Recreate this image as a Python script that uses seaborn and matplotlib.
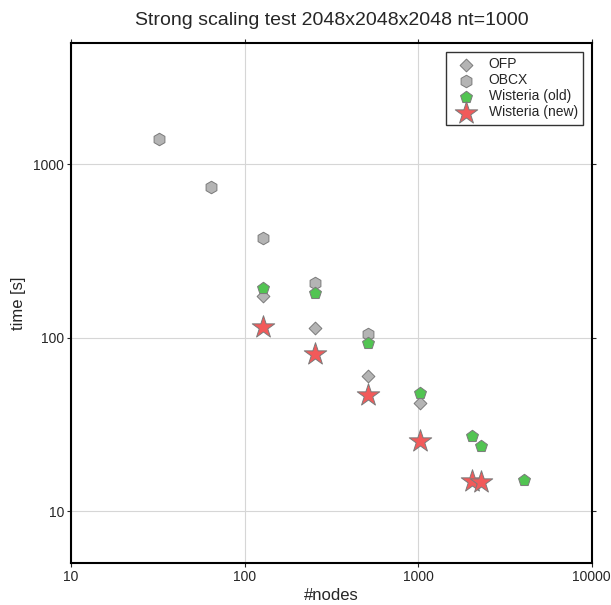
import matplotlib
matplotlib.use("Agg")
import matplotlib.pyplot as plt
import pandas as pd
import seaborn as sns

TITLE = "Strong scaling test 2048x2048x2048 nt=1000"

OFP_NODES = [128, 256, 512, 1024]
OFP_TIME = [175, 114, 60, 42]

OBCX_NODES = [32, 64, 128, 256, 512]
OBCX_TIME = [1406, 738, 375, 206, 105]

WIS_OLD_NODES = [128, 256, 512, 1024, 2048, 2304, 4096]
WIS_OLD_TIME = [195, 182, 93.5, 48, 27, 23.7, 15.1]

WIS_NEW_NODES = [128, 256, 512, 1024, 2048, 2304]
WIS_NEW_TIME = [115, 81, 47, 25.4, 14.9, 14.7]

X_TICKS = [10, 100, 1000, 10000]
Y_TICKS = [10, 100, 1000]

SERIES = [
    ("OFP", OFP_NODES, OFP_TIME, "D", 6.5, "#b4b4b4"),
    ("OBCX", OBCX_NODES, OBCX_TIME, "h", 9, "#b4b4b4"),
    ("Wisteria (old)", WIS_OLD_NODES, WIS_OLD_TIME, "p", 9, "#52c452"),
    ("Wisteria (new)", WIS_NEW_NODES, WIS_NEW_TIME, "*", 17, "#f25a5a"),
]


def configure_plot_style():
    sns.set_style("ticks")
    plt.rcParams.update({
        "font.family": ["Liberation Sans", "DejaVu Sans"],
        "font.size": 10,
        "axes.linewidth": 1.5,
        "axes.edgecolor": "black",
        "xtick.direction": "out",
        "ytick.direction": "out",
        "xtick.major.size": 3,
        "ytick.major.size": 3,
        "xtick.major.width": 0.8,
        "ytick.major.width": 0.8,
        "xtick.labelsize": 10,
        "ytick.labelsize": 10,
    })


def main():
    configure_plot_style()
    fig = plt.figure(figsize=(6.11, 6.05), dpi=100)
    ax = fig.add_axes([0.1162, 0.0689, 0.8522, 0.8595])

    for label, nodes, times, marker, ms, color in SERIES:
        df = pd.DataFrame({"nodes": nodes, "time": times})
        sns.scatterplot(
            data=df, x="nodes", y="time", ax=ax,
            marker=marker, s=ms ** 2, color=color,
            edgecolor="#7a7a7a", linewidth=0.7, label=label, zorder=3,
        )

    ax.set_xscale("log")
    ax.set_yscale("log")
    ax.set_xlim(10, 10000)
    ax.set_ylim(5, 5000)
    ax.set_xticks(X_TICKS, [str(v) for v in X_TICKS])
    ax.set_yticks(Y_TICKS, [str(v) for v in Y_TICKS])
    ax.minorticks_off()
    ax.tick_params(top=True, right=True, labeltop=False, labelright=False, pad=2)
    ax.grid(True, color="#d6d6d6", linewidth=0.8, zorder=0)
    ax.set_axisbelow(True)

    ax.set_xlabel("#nodes", fontsize=12, labelpad=3)
    ax.set_ylabel("time [s]", fontsize=12, labelpad=5)
    ax.set_title(TITLE, fontsize=14, pad=13)

    leg = ax.legend(
        loc="upper right", fancybox=False, frameon=True, edgecolor="black",
        fontsize=10, labelspacing=0.15, handletextpad=0.5, borderpad=0.4,
        handlelength=2.2, borderaxespad=0.6,
    )
    leg.get_frame().set_linewidth(1.0)

    fig.savefig("out.png", dpi=100)
    plt.close(fig)


if __name__ == "__main__":
    main()
